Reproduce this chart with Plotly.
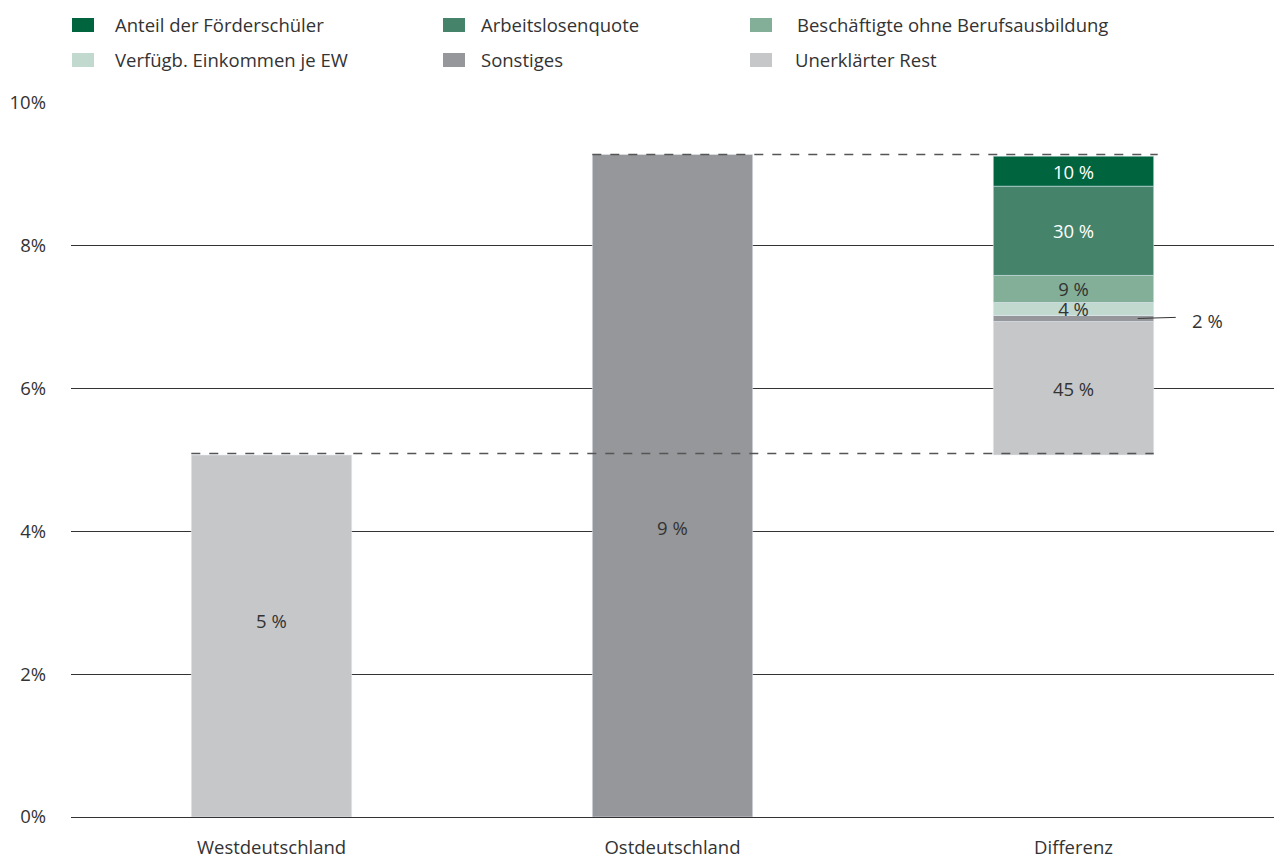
import plotly.graph_objects as go

categories = ["Westdeutschland", "Ostdeutschland", "Differenz"]
west_value = 5.07
east_value = 9.28

seg_names = ["Unerklärter Rest", "Sonstiges", "Verfügb. Einkommen je EW",
             "Beschäftigte ohne Berufsausbildung", "Arbeitslosenquote",
             "Anteil der Förderschüler"]
seg_heights = [1.87, 0.085, 0.18, 0.38, 1.25, 0.42]
seg_shares = [45, 2, 4, 9, 30, 10]
seg_colors = ["#c6c7c9", "#96979a", "#c2d9cf", "#83af99", "#45846a", "#00643f"]
seg_textcolors = ["#333333", "#333333", "#333333", "#333333", "#ffffff", "#ffffff"]

legend_order = ["Anteil der Förderschüler", "Arbeitslosenquote",
                "Beschäftigte ohne Berufsausbildung", "Verfügb. Einkommen je EW",
                "Sonstiges", "Unerklärter Rest"]

FONT = "Open Sans, Noto Sans, sans-serif"
FS = 18.5
TXT = "#333333"

W, H = 1274, 859
ML, MR, MT, MB = 71, 0, 103, 42
PW, PH = W - ML - MR, H - MT - MB

fig = go.Figure()

fig.add_bar(x=[categories[0]], y=[west_value], marker_color="#c6c7c9",
            showlegend=False, hoverinfo="skip")
fig.add_bar(x=[categories[1]], y=[east_value], marker_color="#96979a",
            showlegend=False, hoverinfo="skip")

# labels of the two country bars
fig.add_annotation(x=categories[0], y=2.75, text="%d %%" % round(west_value),
                   showarrow=False, font=dict(size=FS, color=TXT))
fig.add_annotation(x=categories[1], y=4.05, text="%d %%" % round(east_value),
                   showarrow=False, font=dict(size=FS, color=TXT))

base = west_value
for name, h, s, c, tc in zip(seg_names, seg_heights, seg_shares, seg_colors, seg_textcolors):
    label = "" if s == 2 else "%d %%" % s
    fig.add_bar(x=[categories[2]], y=[h], base=[base], marker_color=c,
                text=[label], textposition="inside", insidetextanchor="middle",
                textfont=dict(color=tc, size=FS), constraintext="none",
                cliponaxis=False, showlegend=False, hoverinfo="skip", name=name)
    base += h

# label for small segment (2 %)
sonst_mid = west_value + seg_heights[0] + seg_heights[1] / 2
fig.add_shape(type="line", xref="x", yref="y", x0=2.16, x1=2.255,
              y0=sonst_mid, y1=sonst_mid + 0.015, line=dict(color="#333333", width=1))
fig.add_annotation(x=2.29, y=sonst_mid - 0.03, xref="x", yref="y", text="%d %%" % seg_shares[1],
                   showarrow=False, xanchor="left", font=dict(size=FS, color=TXT))

# dashed reference lines
fig.add_shape(type="line", xref="x", yref="y", x0=-0.2, x1=2.2,
              y0=west_value + 0.02, y1=west_value + 0.02,
              line=dict(color="#555555", width=1.5, dash="dash"))
fig.add_shape(type="line", xref="x", yref="y", x0=0.8, x1=2.21,
              y0=east_value, y1=east_value,
              line=dict(color="#555555", width=1.5, dash="dash"))

# custom legend
def px_x(x):
    return (x - ML) / PW

def px_y(y):
    return (H - MB - y) / PH

legend_pos = [(72, 25), (443, 25), (750, 25), (72, 60), (443, 60), (750, 60)]
text_x = [113, 479, 795, 113, 479, 793]
color_map = dict(zip(seg_names, seg_colors))
for name, (lx, ly), tx in zip(legend_order, legend_pos, text_x):
    fig.add_shape(type="rect", xref="paper", yref="paper",
                  x0=px_x(lx), x1=px_x(lx + 22), y0=px_y(ly - 7), y1=px_y(ly + 7),
                  fillcolor=color_map[name], line=dict(width=0))
    fig.add_annotation(x=px_x(tx), y=px_y(ly), xref="paper", yref="paper",
                       text=name, showarrow=False, xanchor="left", yanchor="middle",
                       font=dict(size=FS, color=TXT))

fig.update_layout(
    width=W, height=H,
    margin=dict(l=ML, r=MR, t=MT, b=MB, autoexpand=False),
    paper_bgcolor="white", plot_bgcolor="white",
    barmode="overlay", bargap=0.6,
    font=dict(family=FONT, size=FS, color=TXT),
    showlegend=False,
    xaxis=dict(type="category", categoryorder="array", categoryarray=categories,
               range=[-0.5, 2.5], showgrid=False, showline=False, zeroline=False,
               ticks="", tickfont=dict(size=FS, color=TXT), ticklabelstandoff=17,
               automargin=False),
    yaxis=dict(range=[0, 10], dtick=2, ticksuffix="%", showgrid=True,
               gridcolor="#333333", gridwidth=1, zeroline=True, zerolinecolor="#333333",
               zerolinewidth=1, showline=False, ticks="", ticklabelstandoff=24,
               tickfont=dict(size=FS, color=TXT), automargin=False),
)

fig.write_html("out.html", config={"displayModeBar": False},
               post_script="document.body.style.margin='0';document.body.style.overflow='hidden';")
